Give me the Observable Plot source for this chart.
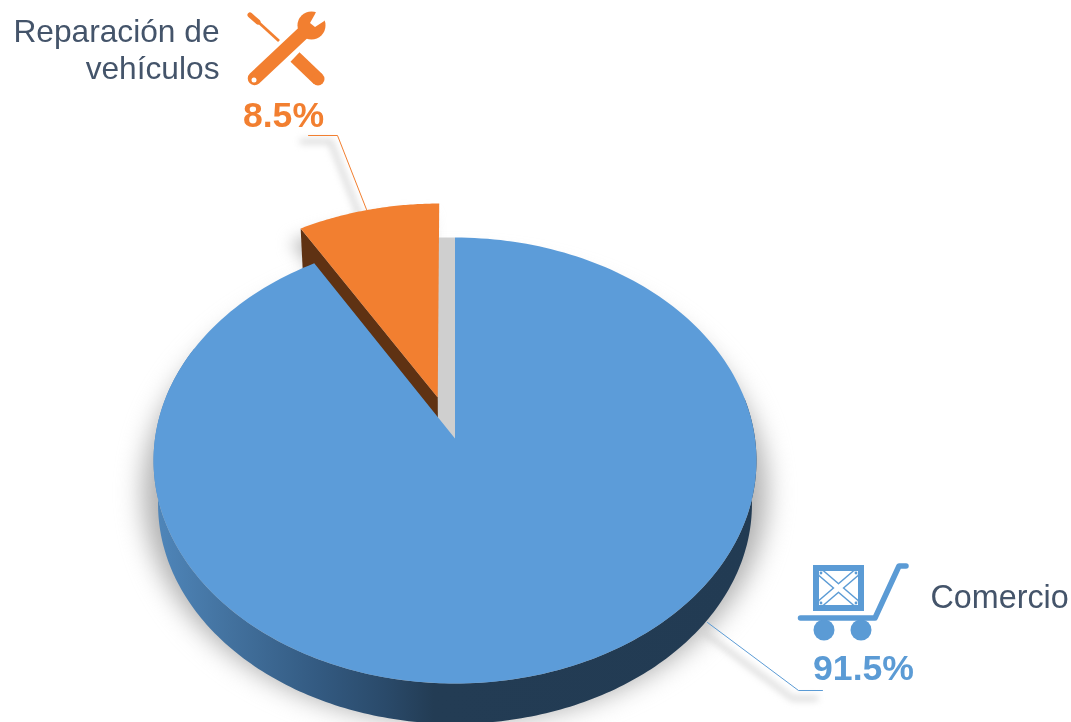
<!DOCTYPE html>
<html>
<head>
<meta charset="utf-8">
<style>html,body{margin:0;padding:0;background:#fff}svg{display:block}</style>
<script src="https://cdn.jsdelivr.net/npm/d3@7"></script>
<script src="https://cdn.jsdelivr.net/npm/@observablehq/plot@0.6"></script>
</head>
<body>
<div id="chart"></div>
<script>
// Data
const categories = ["Comercio", "Reparación de vehículos"];
const shares = [91.5, 8.5];
const shareLabels = ["91.5%", "8.5%"];
const colors = ["#5B9BD5", "#F27F30"];
const topBlue = "#5C9CD9";

// Perspective disc layout
const W = 1071, H = 722;
const disc = {cx: 454.5, cy: 438, a: 300, h: 220.8, p: 0.0987, depth: 44, shrink: 0.985, explode: 0.196};
const project = (u, v, drop = 0) => {
  const k = drop ? disc.shrink : 1, w = 1 + disc.p * v;
  return {x: disc.cx + k * disc.a * u / w, y: disc.cy + drop - k * disc.h * v / w};
};
const arcPts = (from, to, du = 0, dv = 0, drop = 0, r = 1, n = 240) =>
  d3.range(n + 1).map(i => {
    const t = (from + (to - from) * i / n) * 2 * Math.PI / 100;
    return project(r * Math.sin(t) + du, r * Math.cos(t) + dv, drop);
  });

// Slices: angles are percent of the circle measured clockwise from 12 o'clock
const blueEnd = shares[0];
const blueTop = [project(0, 0), ...arcPts(0, blueEnd)];
const mid = (blueEnd + 100) / 2 * 2 * Math.PI / 100;
const du = Math.sin(mid) * disc.explode - 0.007, dv = Math.cos(mid) * disc.explode;
const orangeTop = [project(du, dv), ...arcPts(blueEnd, 100, du, dv, 0, 1, 60)];
const cutAngle = blueEnd * 2 * Math.PI / 100;
const cu = Math.sin(cutAngle) + du, cv = Math.cos(cutAngle) + dv;
const orangeWall = [project(du, dv), project(cu, cv), project(cu, cv, disc.depth), project(du, dv, disc.depth)];
const frontTop = arcPts(22, 82);
const frontBottom = arcPts(22, 82, 0, 0, disc.depth);
const blueWall = [...frontTop, ...frontBottom.reverse()];
const shadowDisc = arcPts(0, 100, 0, 0, 30, 1.05);
const apex = project(0, 0), apexO = project(du, dv), rim = project(0, 1);
const gap = [{x: apexO.x, y: rim.y}, {x: apex.x, y: rim.y}, {x: apex.x, y: apex.y + 2}, {x: apexO.x, y: apex.y + 2}];

// Leader lines
const leaderO = [{x: 308, y: 135}, {x: 337, y: 135}, {x: 366, y: 209}];
const leaderB = [{x: 707, y: 622}, {x: 798, y: 690}, {x: 822, y: 690}];
const off = (pts, dx, dy) => pts.map(d => ({x: d.x + dx, y: d.y + dy}));

const poly = (pts, o) => Plot.line(pts, {x: "x", y: "y", curve: "linear", stroke: "none", ...o});

const defs = () => {
  const g = d3.create("svg:defs");
  const lg = g.append("linearGradient").attr("id", "wall").attr("gradientUnits", "userSpaceOnUse")
    .attr("x1", 155).attr("x2", 760).attr("y1", 0).attr("y2", 0);
  [[0, "#4F86BA"], [0.12, "#43729F"], [0.27, "#335A81"], [0.38, "#2A4A6A"], [0.46, "#233C54"], [1, "#223B53"]]
    .forEach(([o, c]) => lg.append("stop").attr("offset", o).attr("stop-color", c));
  return g.node();
};

const icons = () => {
  const g = d3.create("svg:g").attr("filter", "blur(0.4px)").style("filter", "blur(0.4px)");
  const O = colors[1], B = colors[0];
  // wrench
  g.append("line").attr("x1", 254.5).attr("y1", 78.5).attr("x2", 304).attr("y2", 32)
    .attr("stroke", O).attr("stroke-width", 13.5).attr("stroke-linecap", "round");
  g.append("circle").attr("cx", 311.5).attr("cy", 25.5).attr("r", 14).attr("fill", O);
  g.append("path").attr("d", "M310 23 L314.5 15 L318 8 L331 15 L323.5 21.5 L315 27 Z").attr("fill", "#fff");
  g.append("circle").attr("cx", 254).attr("cy", 80).attr("r", 2.5).attr("fill", "#fff");
  // screwdriver
  g.append("line").attr("x1", 250).attr("y1", 15).attr("x2", 258).attr("y2", 22)
    .attr("stroke", O).attr("stroke-width", 5).attr("stroke-linecap", "round");
  g.append("line").attr("x1", 256).attr("y1", 20).attr("x2", 279).attr("y2", 41)
    .attr("stroke", O).attr("stroke-width", 2.8);
  g.append("line").attr("x1", 295).attr("y1", 57).attr("x2", 318).attr("y2", 79)
    .attr("stroke", O).attr("stroke-width", 13);
  g.append("circle").attr("cx", 318).attr("cy", 79).attr("r", 6.5).attr("fill", O);
  // cart
  g.append("rect").attr("x", 813).attr("y", 565).attr("width", 51).attr("height", 46).attr("fill", B);
  g.append("rect").attr("x", 819).attr("y", 571).attr("width", 39).attr("height", 34).attr("fill", "#fff");
  [[821, 573, 856, 603], [856, 573, 821, 603]].forEach(([a, b, c, d]) => {
    g.append("line").attr("x1", a).attr("y1", b).attr("x2", c).attr("y2", d).attr("stroke", B).attr("stroke-width", 8);
  });
  [[821, 573, 856, 603], [856, 573, 821, 603]].forEach(([a, b, c, d]) => {
    g.append("line").attr("x1", a).attr("y1", b).attr("x2", c).attr("y2", d).attr("stroke", "#fff").attr("stroke-width", 5);
  });
  [[821, 573], [856, 573], [821, 603], [856, 603]].forEach(([a, b]) => {
    g.append("circle").attr("cx", a).attr("cy", b).attr("r", 1.4).attr("fill", B);
  });
  g.append("path").attr("d", "M800.5 618 H875 L899 566 H906").attr("fill", "none").attr("stroke", B)
    .attr("stroke-width", 5.5).attr("stroke-linecap", "round").attr("stroke-linejoin", "round");
  g.append("circle").attr("cx", 824).attr("cy", 630).attr("r", 10.5).attr("fill", B);
  g.append("circle").attr("cx", 861).attr("cy", 630).attr("r", 10.5).attr("fill", B);
  return g.node();
};

const font = "'Liberation Sans', Arial, sans-serif";
const nameLines = [
  {x: 219, y: 42, t: "Reparación de"},
  {x: 219, y: 79, t: "vehículos"}
];
const nameRight = [{x: 930, y: 607, t: categories[0]}];
const pct = [
  {x: 283, y: 126, t: shareLabels[1], c: colors[1]},
  {x: 863, y: 679, t: shareLabels[0], c: colors[0]}
];
const blur = "blur(0.35px)";

const chart = Plot.plot({
  width: W, height: H,
  margin: 0,
  x: {type: "linear", domain: [0, W], range: [0, W], axis: null},
  y: {type: "linear", domain: [0, H], range: [0, H], axis: null},
  marks: [
    defs,
    poly(shadowDisc, {fill: "#b0b0b0", imageFilter: "blur(13px)"}),
    poly(off(orangeTop, -10, 14), {fill: "#bbbbbb", imageFilter: "blur(8px)"}),
    Plot.line(off(leaderO, -7, 6), {x: "x", y: "y", stroke: "#cfcfcf", strokeWidth: 4, imageFilter: "blur(3.5px)"}),
    Plot.line(off(leaderB, -6, 8), {x: "x", y: "y", stroke: "#cfcfcf", strokeWidth: 4, imageFilter: "blur(3.5px)"}),
    poly(gap, {fill: "#CFCFCF"}),
    poly(orangeWall, {fill: "#5F3213"}),
    poly(orangeTop, {fill: colors[1]}),
    poly(blueWall, {fill: "url(#wall)"}),
    poly(blueTop, {fill: topBlue}),
    Plot.line(leaderO, {x: "x", y: "y", stroke: colors[1], strokeWidth: 1}),
    Plot.line(leaderB, {x: "x", y: "y", stroke: colors[0], strokeWidth: 1}),
    icons,
    Plot.text(nameLines, {x: "x", y: "y", text: "t", textAnchor: "end", lineAnchor: "bottom", dy: -1, fill: "#44546A", fontSize: 31.7, fontFamily: font, imageFilter: blur}),
    Plot.text(nameRight, {x: "x", y: "y", text: "t", textAnchor: "start", lineAnchor: "bottom", dy: 0, fill: "#44546A", fontSize: 32.3, fontFamily: font, imageFilter: blur}),
    Plot.text(pct, {x: "x", y: "y", text: "t", fill: "c", textAnchor: "middle", lineAnchor: "bottom", dy: 0, fontSize: 35.6, fontWeight: "bold", fontFamily: font, imageFilter: blur})
  ]
});
document.getElementById("chart").appendChild(chart);
</script>
</body>
</html>
